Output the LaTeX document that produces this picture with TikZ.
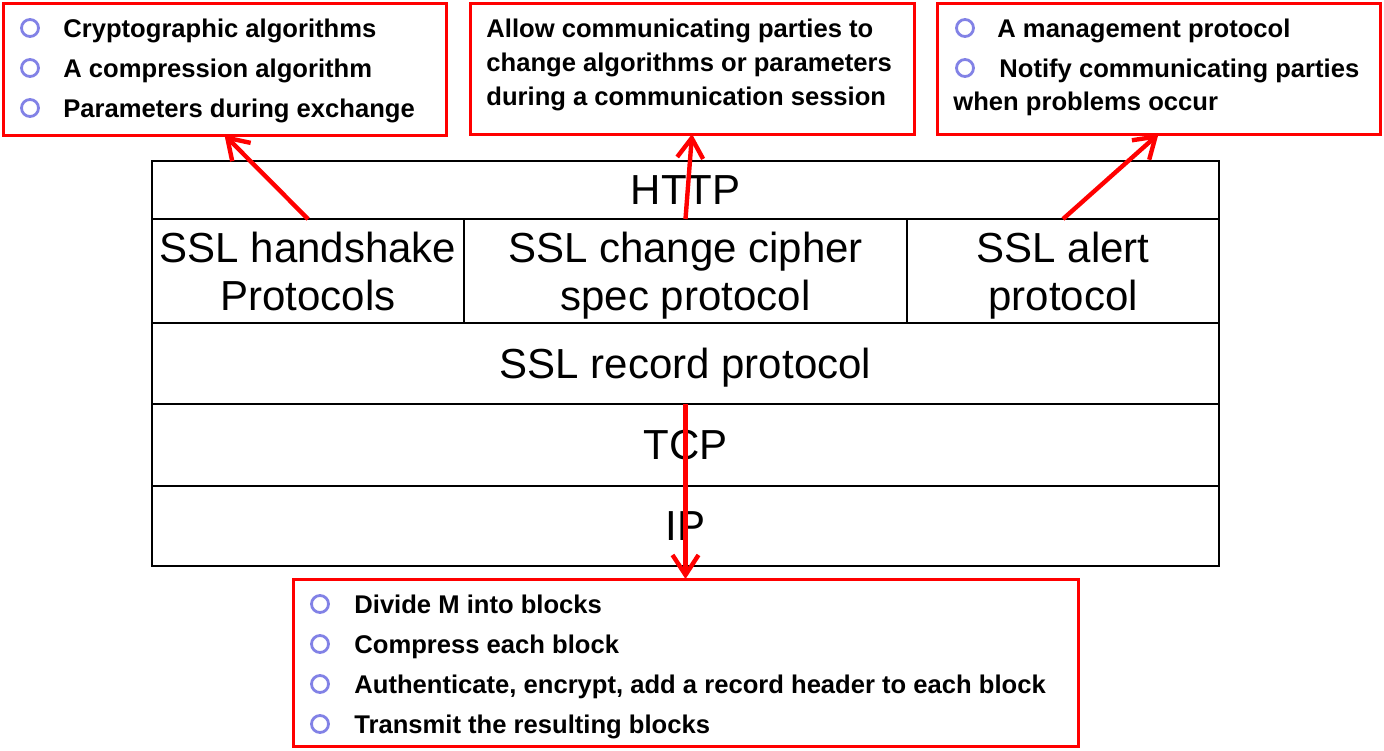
\documentclass[tikz,border=0pt]{standalone}
\usepackage{fontspec}
\setmainfont{Liberation Sans}
\usetikzlibrary{positioning,arrows.meta}
\definecolor{bulblue}{RGB}{130,130,230}
\begin{document}
\begin{tikzpicture}[x=0.5pt,y=-0.5pt,
    layer/.style={draw, line width=1pt, inner sep=0pt, outer sep=0pt, align=center,
      text depth=0pt, font=\fontsize{21}{24}\selectfont},
    notebox/.style={draw=red, line width=1.5pt, inner sep=0pt, outer sep=0pt},
    note/.style={anchor=base west, inner sep=0pt, font=\bfseries\fontsize{12.8}{15}\selectfont},
    bul/.style={circle, draw=bulblue, fill=white, line width=1.4pt, minimum size=8.5pt, inner sep=0pt},
    link/.style={red, line width=2.2pt, -{Straight Barb[length=10pt,width=13pt]}}]
        \useasboundingbox (0,0) rectangle (1384,750);

        % Protocol stack
        \node[layer, minimum width=533.5pt, minimum height=29pt] (http) at (685.5,190) {HTTP};
        \node[layer, minimum width=156pt, minimum height=52pt] (hs) at (308,271) {SSL handshake\\Protocols};
        \node[layer, minimum width=221.5pt, minimum height=52pt] (ccs) at (685.5,271) {SSL change cipher\\spec protocol};
        \node[layer, minimum width=156pt, minimum height=52pt] (alert) at (1063,271) {SSL alert\\protocol};
        \node[layer, minimum width=533.5pt, minimum height=40.5pt] (record) at (685.5,363.5) {SSL record protocol};
        \node[layer, minimum width=533.5pt, minimum height=41pt] (tcp) at (685.5,445) {TCP};
        \node[layer, minimum width=533.5pt, minimum height=40pt] (ip) at (685.5,526) {IP};

        % Note boxes
        \node[notebox, minimum width=221.5pt, minimum height=66pt] (hsnote) at (224.5,69) {};
        \node[notebox, minimum width=222pt, minimum height=65.5pt] (ccsnote) at (692,68.5) {};
        \node[notebox, minimum width=221.5pt, minimum height=65.5pt] (alertnote) at (1158.5,68.5) {};
        \node[notebox, minimum width=392.5pt, minimum height=83.5pt] (recnote) at (685.5,662.5) {};

        % Handshake note
        \foreach \y/\txt [count=\n] in {28/Cryptographic algorithms, 68/A compression algorithm, 108/Parameters during exchange}{
            \node[bul] (hsb\n) at (30,\y) {};
            \node[note] (hst\n) at (63,\y+9) {\txt};
          }

        % Change cipher spec note
        \foreach \y/\txt [count=\n] in {28/Allow communicating parties to, 62/change algorithms or parameters, 96/during a communication session}{
            \node[note] (ccst\n) at (486,\y+9) {\txt};
          }

        % Alert note
        \node[bul] (alb1) at (965,28) {};
        \node[note] (alt1) at (997,37) {A management protocol};
        \node[bul] (alb2) at (965,68) {};
        \node[note] (alt2) at (999,77) {Notify communicating parties};
        \node[note] (alt3) at (953,110) {when problems occur};

        % Record note
        \foreach \y/\txt [count=\n] in {604/Divide M into blocks, 644/Compress each block,
            684/{Authenticate, encrypt, add a record header to each block}, 724/Transmit the resulting blocks}{
            \node[bul] (recb\n) at (320,\y) {};
            \node[note] (rect\n) at (354,\y+9) {\txt};
          }

        % Arrows
        \draw[link] (hs.north) -- (hsnote.south);
        \draw[link] (ccs.north) -- (ccsnote.south);
        \draw[link] (alert.north) -- (alertnote.south);
        \draw[link] (record.south) -- (recnote.north);
      \end{tikzpicture}
\end{document}
